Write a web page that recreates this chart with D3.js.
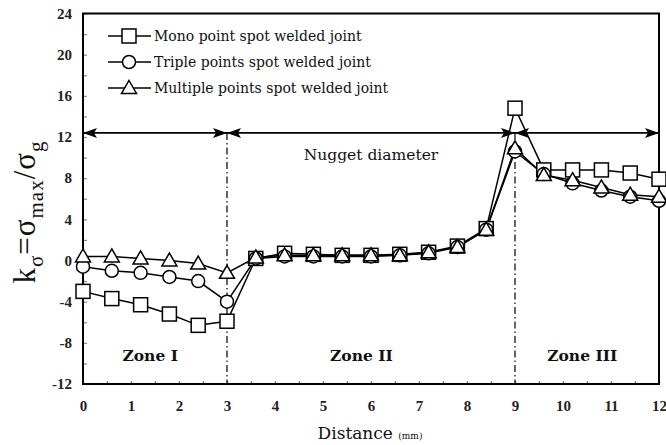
<!DOCTYPE html>
<html>
<head>
<meta charset="utf-8">
<script src="https://cdn.jsdelivr.net/npm/d3@7"></script>
<style>
  html, body { margin: 0; padding: 0; background: #fff; }
  svg { display: block; }
  text { font-family: "DejaVu Serif", "Liberation Serif", serif; fill: #111; }
</style>
</head>
<body>
<svg id="chart" width="666" height="445"></svg>
<script>
// Distance along the joint (mm)
const distance = [0, 0.6, 1.2, 1.8, 2.4, 3.0, 3.6, 4.2, 4.8, 5.4, 6.0, 6.6, 7.2, 7.8, 8.4, 9.0, 9.6, 10.2, 10.8, 11.4, 12.0];

// Stress concentration factor k = sigma_max / sigma_g
const mono     = [-3.0, -3.7, -4.3, -5.2, -6.3, -5.9, 0.2, 0.7, 0.6, 0.5, 0.5, 0.6, 0.8, 1.4, 3.1, 14.8, 8.8, 8.8, 8.8, 8.5, 7.9];
const triple   = [-0.6, -1.0, -1.2, -1.6, -2.0, -4.0, 0.2, 0.4, 0.4, 0.4, 0.4, 0.5, 0.7, 1.3, 3.0, 10.6, 8.4, 7.5, 6.8, 6.2, 5.8];
const multiple = [0.4, 0.4, 0.2, 0.0, -0.3, -1.2, 0.3, 0.5, 0.5, 0.5, 0.5, 0.5, 0.8, 1.3, 3.0, 10.9, 8.3, 7.8, 7.1, 6.4, 6.2];

const seriesNames = ["Mono point spot welded joint", "Triple points spot welded joint", "Multiple points spot welded joint"];
const seriesMarkers = ["square", "circle", "triangle"];

const xTicks = [0, 1, 2, 3, 4, 5, 6, 7, 8, 9, 10, 11, 12];
const yTicks = [-12, -8, -4, 0, 4, 8, 12, 16, 20, 24];

// Nugget diameter dimension line and zone boundaries
const nuggetLevel = 12.4;
const zoneBounds = [0, 3, 9, 12];
const zoneLabels = ["Zone I", "Zone II", "Zone III"];
const zoneLabelX = [1.4, 5.8, 10.4];

const svg = d3.select("#chart");
const plotLeft = 83, plotRight = 659, plotTop = 13.5, plotBottom = 384;

const x = d3.scaleLinear().domain([0, 12]).range([plotLeft, plotRight]);
const y = d3.scaleLinear().domain([-12, 24]).range([plotBottom, plotTop]);

// Plain hyphen for negative tick values
const tickFmt = d => String(d);
const timesFont = "'Liberation Serif', 'Times New Roman', serif";

// Minor inner ticks
svg.append("g")
  .attr("transform", `translate(0,${plotBottom})`)
  .call(d3.axisBottom(x).tickValues(d3.range(0, 12.01, 0.5)).tickSize(-3).tickFormat(""))
  .call(g => g.select(".domain").remove())
  .call(g => g.selectAll("line").attr("stroke", "#777").attr("stroke-width", 1.2));
svg.append("g")
  .attr("transform", `translate(${plotLeft},0)`)
  .call(d3.axisLeft(y).tickValues(d3.range(-12, 24.01, 2)).tickSize(-4).tickFormat(""))
  .call(g => g.select(".domain").remove())
  .call(g => g.selectAll("line").attr("stroke", "#888").attr("stroke-width", 1.2));

// Tick labels
svg.append("g")
  .attr("transform", `translate(0,${plotBottom})`)
  .call(d3.axisBottom(x).tickValues(xTicks).tickSize(0).tickPadding(16).tickFormat(tickFmt))
  .call(g => g.select(".domain").remove())
  .call(g => g.selectAll("text").style("font-size", "15px").style("font-weight", "bold")
    .style("font-family", timesFont).style("fill", "#222"));
svg.append("g")
  .attr("transform", `translate(${plotLeft},0)`)
  .call(d3.axisLeft(y).tickValues(yTicks).tickSize(0).tickPadding(11).tickFormat(tickFmt))
  .call(g => g.select(".domain").remove())
  .call(g => g.selectAll("text").style("font-size", "15px").style("font-weight", "bold")
    .style("font-family", timesFont).style("fill", "#222"));

// Plot frame
svg.append("rect")
  .attr("x", plotLeft).attr("y", plotTop)
  .attr("width", plotRight - plotLeft).attr("height", plotBottom - plotTop)
  .attr("fill", "none").attr("stroke", "#000").attr("stroke-width", 2);

// Zone boundaries (dash-dot)
svg.selectAll(".zone-line")
  .data(zoneBounds.slice(1, 3))
  .join("line")
  .attr("x1", d => x(d)).attr("x2", d => x(d))
  .attr("y1", y(nuggetLevel)).attr("y2", plotBottom)
  .attr("stroke", "#000").attr("stroke-width", 1.2)
  .attr("stroke-dasharray", "7,3,1.5,3");

// Nugget diameter dimension line with arrowheads
svg.append("line")
  .attr("x1", x(0)).attr("x2", x(12))
  .attr("y1", y(nuggetLevel)).attr("y2", y(nuggetLevel))
  .attr("stroke", "#000").attr("stroke-width", 1.6);

const arrowLen = 14, arrowHalf = 5;
const arrows = [];
zoneBounds.forEach((b, i) => {
  if (i > 0) arrows.push({ at: b, dir: 1 });
  if (i < zoneBounds.length - 1) arrows.push({ at: b, dir: -1 });
});
svg.selectAll(".arrow")
  .data(arrows)
  .join("path")
  .attr("d", d => {
    const tx = x(d.at), ty = y(nuggetLevel);
    const bx = tx - d.dir * arrowLen;
    return `M${tx},${ty}L${bx},${ty - arrowHalf}L${bx + d.dir * 3},${ty}L${bx},${ty + arrowHalf}Z`;
  })
  .attr("fill", "#000");

svg.append("text")
  .attr("x", x(6)).attr("y", y(nuggetLevel) + 27)
  .attr("text-anchor", "middle").style("font-size", "15.5px")
  .text("Nugget diameter");

// Zone labels
svg.selectAll(".zone-label")
  .data(zoneLabels)
  .join("text")
  .attr("x", (d, i) => x(zoneLabelX[i]))
  .attr("y", y(-9.8))
  .attr("text-anchor", "middle")
  .style("font-size", "15.5px").style("font-weight", "bold")
  .text(d => d);

// Series lines and markers
const seriesValues = [mono, triple, multiple];
const line = d3.line().x(d => x(d[0])).y(d => y(d[1]));

function drawMarker(g, type, cx, cy) {
  if (type === "square") {
    g.append("rect").attr("x", cx - 7).attr("y", cy - 7).attr("width", 14).attr("height", 14)
      .attr("fill", "#fff").attr("stroke", "#000").attr("stroke-width", 1.5);
  } else if (type === "circle") {
    g.append("circle").attr("cx", cx).attr("cy", cy).attr("r", 6.5)
      .attr("fill", "#fff").attr("stroke", "#000").attr("stroke-width", 1.5);
  } else {
    g.append("path")
      .attr("d", `M${cx},${cy - 7.5}L${cx + 7.5},${cy + 5.5}L${cx - 7.5},${cy + 5.5}Z`)
      .attr("fill", "#fff").attr("stroke", "#000").attr("stroke-width", 1.5);
  }
}

seriesValues.forEach((vals, si) => {
  const pts = distance.map((d, i) => [d, vals[i]]);
  svg.append("path").datum(pts)
    .attr("d", line).attr("fill", "none")
    .attr("stroke", "#000").attr("stroke-width", 1.5);
});
seriesValues.forEach((vals, si) => {
  const g = svg.append("g");
  distance.forEach((d, i) => drawMarker(g, seriesMarkers[si], x(d), y(vals[i])));
});

// Legend
const legend = svg.append("g");
seriesNames.forEach((name, i) => {
  const ly = 36 + i * 26;
  legend.append("line").attr("x1", 108).attr("x2", 151).attr("y1", ly).attr("y2", ly)
    .attr("stroke", "#000").attr("stroke-width", 1.5);
  drawMarker(legend, seriesMarkers[i], 129, ly);
  legend.append("text").attr("x", 154).attr("y", ly + 5).style("font-size", "14px").text(name);
});

// Axis titles
const xTitle = svg.append("text")
  .attr("x", 370).attr("y", 439).attr("text-anchor", "middle");
xTitle.append("tspan").style("font-size", "17px").text("Distance ");
xTitle.append("tspan").style("font-size", "9px").text("(mm)");

const yTitle = svg.append("text")
  .attr("transform", "translate(35,212) rotate(-90)")
  .attr("text-anchor", "middle")
  .style("font-size", "31px").style("font-family", timesFont)
  .style("letter-spacing", "1px");
yTitle.append("tspan").text("k");
yTitle.append("tspan").style("font-size", "21px").attr("dy", 8).text("σ");
yTitle.append("tspan").attr("dy", -8).text("=σ");
yTitle.append("tspan").style("font-size", "21px").attr("dy", 8).text("max");
yTitle.append("tspan").attr("dy", -8).text("/σ");
yTitle.append("tspan").style("font-size", "21px").attr("dy", 8).text("g");
</script>
</body>
</html>
